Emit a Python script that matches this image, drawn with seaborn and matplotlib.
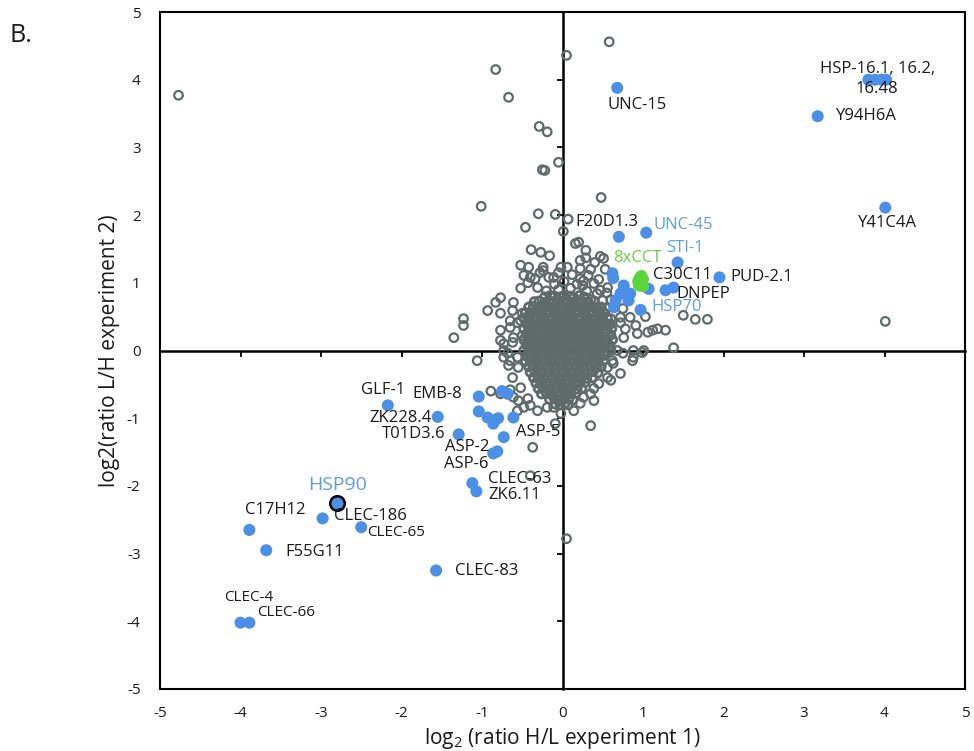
import matplotlib
matplotlib.use("Agg")
import matplotlib.pyplot as plt
import seaborn as sns

# background proteins (open grey circles)
grey_outer = [
    (-4.77, 3.77), (-0.83, 4.15), (-0.67, 3.74), (-0.29, 3.31), (-0.19, 3.23), (-0.25, 2.67),
    (-0.22, 2.66), (-0.05, 2.78), (0.05, 4.36), (0.58, 4.56), (-1.01, 2.13), (-0.30, 2.02),
    (-0.09, 2.01), (0.07, 1.94), (0.48, 2.26), (-0.46, 1.82), (0.01, 1.76), (0.16, 1.58),
    (0.20, 1.60), (0.29, 1.48), (0.29, 1.37), (-0.39, 1.49), (-0.27, 1.45), (-0.16, 1.40),
    (0.47, 1.39), (0.51, 1.36), (-0.52, 1.26), (-0.42, 1.23), (-0.24, 1.23), (-0.02, 1.23),
    (0.22, 1.21), (-0.48, 1.11), (-0.34, 1.06), (-0.17, 1.08), (-0.43, 1.00), (-0.31, 0.93),
    (-0.77, 0.78), (-0.83, 0.71), (-0.93, 0.59), (-1.23, 0.47), (-1.23, 0.37), (-1.35, 0.19),
    (-1.06, -0.15), (-0.61, 0.71), (-0.62, 0.59), (-0.50, 0.55), (-0.56, 0.41), (-0.73, 0.10),
    (-0.62, 0.12), (-0.65, 0.34), (-0.52, 0.44), (-0.50, 0.22), (-0.68, -0.04), (-0.73, -0.10),
    (-0.56, -0.10), (-0.67, -0.22), (-0.55, -0.25), (-0.62, -0.40), (0.22, 1.06), (0.32, 1.11),
    (0.25, 0.96), (0.56, 0.93), (0.43, 0.84), (0.50, 0.74), (0.60, 0.47), (0.72, 0.41),
    (0.78, 0.32), (0.93, 0.25), (1.06, 0.27), (1.01, 0.00), (0.87, -0.15), (0.63, -0.19),
    (0.72, -0.34), (0.60, -0.44), (-0.11, -0.84), (0.35, -1.11), (-0.37, -1.43), (-0.40, -1.85),
    (0.05, -2.78), (0.99, -0.03), (1.38, 0.04), (0.75, -0.04), (0.62, -0.15), (0.56, -0.25),
    (0.45, -0.49), (0.39, -0.56), (0.39, -0.74), (0.26, -0.69), (0.75, 0.62), (1.03, 0.50),
    (1.18, 0.32), (1.28, 0.30), (1.50, 0.52), (1.65, 0.46), (1.80, 0.46), (0.91, 0.37),
    (1.12, 0.30), (0.84, 0.49), (4.01, 0.43), (-0.89, -0.60), (-0.65, -0.58), (-0.55, -0.74),
    (-0.43, -0.71), (-0.40, -0.81), (-0.56, -0.89), (-0.77, 0.15), (-0.73, 0.00), (-0.65, -0.15),
    (-0.52, -0.55), (-0.77, -0.64), (-0.61, -0.69), (-0.48, -0.84), (-0.31, -0.89), (-0.19, -0.84),
    (-0.02, -0.93), (-0.09, -1.08), (0.72, 0.49), (0.76, 0.19), (0.68, 0.00), (0.56, -0.40),
    (0.35, -0.64), (0.22, -0.78), (0.14, -0.89), (0.88, 0.00), (0.88, -0.10), (-0.40, 1.08),
    (-0.24, 1.18), (-0.11, 1.08), (0.06, 1.23), (0.22, 1.33), (0.26, 1.03), (0.39, 0.99),
    (0.47, 0.89), (-0.52, 0.92), (-0.77, 0.55), (-0.65, 0.44), (-0.77, 0.30), (-0.61, 0.19),
    (-0.05, 0.90), (0.10, 0.92), (0.30, 0.88), (-0.20, 0.88), (0.18, 0.98), (-0.10, 0.98),
    (0.02, 1.02), (-0.28, 1.15), (0.12, 1.12), (0.35, 1.20), (-0.05, 1.15), (0.35, 0.75),
    (0.42, 0.62), (0.55, 0.62), (0.60, 0.75), (0.55, 0.85), (0.45, 1.05), (0.53, 1.20),
    (0.40, 1.30),
]

# the dense centre of the cloud
grey_core = [
    (-0.22, 0.79), (-0.15, 0.81), (-0.10, 0.80), (-0.03, 0.79), (0.02, 0.81), (0.09, 0.80),
    (0.14, 0.78), (0.21, 0.81), (0.27, 0.79),
    (-0.35, 0.72), (-0.29, 0.73), (-0.22, 0.71), (-0.17, 0.73), (-0.11, 0.72), (-0.05, 0.71),
    (0.01, 0.73), (0.07, 0.72), (0.13, 0.71), (0.19, 0.73), (0.25, 0.72), (0.32, 0.71), (0.39, 0.73),
    (-0.42, 0.64), (-0.36, 0.65), (-0.30, 0.63), (-0.24, 0.64), (-0.18, 0.65), (-0.12, 0.63),
    (-0.06, 0.64), (0.00, 0.65), (0.06, 0.63), (0.12, 0.64), (0.18, 0.65), (0.24, 0.63),
    (0.30, 0.64), (0.36, 0.65), (0.42, 0.63), (0.48, 0.64),
    (-0.46, 0.56), (-0.40, 0.55), (-0.33, 0.57), (-0.27, 0.56), (-0.21, 0.55), (-0.15, 0.57),
    (-0.09, 0.56), (-0.03, 0.55), (0.03, 0.57), (0.09, 0.56), (0.15, 0.55), (0.21, 0.57),
    (0.27, 0.56), (0.33, 0.55), (0.39, 0.57), (0.45, 0.56), (0.52, 0.55),
    (-0.48, 0.48), (-0.42, 0.49), (-0.36, 0.47), (-0.30, 0.48), (-0.24, 0.49), (-0.18, 0.47),
    (-0.12, 0.48), (-0.06, 0.49), (0.00, 0.47), (0.06, 0.48), (0.12, 0.49), (0.18, 0.47),
    (0.24, 0.48), (0.30, 0.49), (0.36, 0.47), (0.42, 0.48), (0.49, 0.49), (0.56, 0.47),
    (-0.45, 0.40), (-0.39, 0.41), (-0.33, 0.39), (-0.27, 0.40), (-0.21, 0.41), (-0.15, 0.39),
    (-0.09, 0.40), (-0.03, 0.41), (0.03, 0.39), (0.09, 0.40), (0.15, 0.41), (0.21, 0.39),
    (0.27, 0.40), (0.33, 0.41), (0.39, 0.39), (0.45, 0.40), (0.52, 0.41), (0.59, 0.39),
    (-0.48, 0.32), (-0.42, 0.33), (-0.36, 0.31), (-0.30, 0.32), (-0.24, 0.33), (-0.18, 0.31),
    (-0.12, 0.32), (-0.06, 0.33), (0.00, 0.31), (0.06, 0.32), (0.12, 0.33), (0.18, 0.31),
    (0.24, 0.32), (0.30, 0.33), (0.36, 0.31), (0.42, 0.32), (0.48, 0.33), (0.55, 0.31), (0.61, 0.32),
    (-0.45, 0.24), (-0.39, 0.25), (-0.33, 0.23), (-0.27, 0.24), (-0.21, 0.25), (-0.15, 0.23),
    (-0.09, 0.24), (-0.03, 0.25), (0.03, 0.23), (0.09, 0.24), (0.15, 0.25), (0.21, 0.23),
    (0.27, 0.24), (0.33, 0.25), (0.39, 0.23), (0.45, 0.24), (0.52, 0.25), (0.60, 0.23),
    (-0.48, 0.16), (-0.42, 0.17), (-0.36, 0.15), (-0.30, 0.16), (-0.24, 0.17), (-0.18, 0.15),
    (-0.12, 0.16), (-0.06, 0.17), (0.00, 0.15), (0.06, 0.16), (0.12, 0.17), (0.18, 0.15),
    (0.24, 0.16), (0.30, 0.17), (0.36, 0.15), (0.42, 0.16), (0.48, 0.17), (0.55, 0.15), (0.62, 0.16),
    (-0.45, 0.08), (-0.39, 0.09), (-0.33, 0.07), (-0.27, 0.08), (-0.21, 0.09), (-0.15, 0.07),
    (-0.09, 0.08), (-0.03, 0.09), (0.03, 0.07), (0.09, 0.08), (0.15, 0.09), (0.21, 0.07),
    (0.27, 0.08), (0.33, 0.09), (0.39, 0.07), (0.45, 0.08), (0.52, 0.09), (0.59, 0.07),
    (-0.48, 0.00), (-0.42, 0.01), (-0.36, -0.01), (-0.30, 0.00), (-0.24, 0.01), (-0.18, -0.01),
    (-0.12, 0.00), (-0.06, 0.01), (0.00, -0.01), (0.06, 0.00), (0.12, 0.01), (0.18, -0.01),
    (0.24, 0.00), (0.30, 0.01), (0.36, -0.01), (0.42, 0.00), (0.48, 0.01), (0.54, -0.01), (0.60, 0.00),
    (-0.45, -0.08), (-0.39, -0.07), (-0.33, -0.09), (-0.27, -0.08), (-0.21, -0.07), (-0.15, -0.09),
    (-0.09, -0.08), (-0.03, -0.07), (0.03, -0.09), (0.09, -0.08), (0.15, -0.07), (0.21, -0.09),
    (0.27, -0.08), (0.33, -0.07), (0.39, -0.09), (0.45, -0.08), (0.52, -0.07),
    (-0.46, -0.16), (-0.40, -0.15), (-0.34, -0.17), (-0.28, -0.16), (-0.22, -0.15), (-0.16, -0.17),
    (-0.10, -0.16), (-0.04, -0.15), (0.02, -0.17), (0.08, -0.16), (0.14, -0.15), (0.20, -0.17),
    (0.26, -0.16), (0.32, -0.15), (0.38, -0.17), (0.44, -0.16), (0.51, -0.15),
    (-0.42, -0.24), (-0.36, -0.23), (-0.30, -0.25), (-0.24, -0.24), (-0.18, -0.23), (-0.12, -0.25),
    (-0.06, -0.24), (0.00, -0.23), (0.06, -0.25), (0.12, -0.24), (0.18, -0.23), (0.24, -0.25),
    (0.30, -0.24), (0.36, -0.23), (0.42, -0.25), (0.48, -0.24),
    (-0.40, -0.32), (-0.34, -0.31), (-0.28, -0.33), (-0.22, -0.32), (-0.16, -0.31), (-0.10, -0.33),
    (-0.04, -0.32), (0.02, -0.31), (0.08, -0.33), (0.14, -0.32), (0.20, -0.31), (0.26, -0.33),
    (0.32, -0.32), (0.38, -0.31), (0.44, -0.33),
    (-0.36, -0.40), (-0.30, -0.39), (-0.24, -0.41), (-0.18, -0.40), (-0.12, -0.39), (-0.06, -0.41),
    (0.00, -0.40), (0.06, -0.39), (0.12, -0.41), (0.18, -0.40), (0.24, -0.39), (0.30, -0.41), (0.37, -0.40),
    (-0.33, -0.48), (-0.27, -0.47), (-0.21, -0.49), (-0.15, -0.48), (-0.09, -0.47), (-0.03, -0.49),
    (0.03, -0.48), (0.09, -0.47), (0.15, -0.49), (0.21, -0.48), (0.28, -0.47),
    (-0.30, -0.56), (-0.24, -0.55), (-0.18, -0.57), (-0.12, -0.56), (-0.06, -0.55), (0.00, -0.57),
    (0.06, -0.56), (0.12, -0.55), (0.18, -0.57), (0.24, -0.56),
    (-0.26, -0.64), (-0.20, -0.63), (-0.14, -0.65), (-0.08, -0.64), (-0.02, -0.63), (0.04, -0.65),
    (0.10, -0.64), (0.17, -0.63),
    (-0.16, -0.72), (-0.10, -0.71), (-0.04, -0.73), (0.02, -0.72), (0.08, -0.71), (0.13, -0.73),
    (-0.09, -0.79), (-0.03, -0.80), (0.03, -0.78), (0.07, -0.80),
]

# changed proteins (blue dots)
blue_pts = [
    (0.68, 3.88), (3.80, 4.00), (3.88, 4.00), (3.96, 4.00), (4.02, 4.00), (3.17, 3.46),
    (4.01, 2.11), (0.70, 1.68), (1.04, 1.74), (1.43, 1.30), (1.95, 1.08),
    (0.62, 1.14), (0.63, 1.07), (0.76, 0.96), (0.84, 0.84), (0.66, 0.74), (0.64, 0.64),
    (0.82, 0.74), (0.97, 0.60), (1.07, 0.91), (1.28, 0.89), (1.38, 0.93), (0.72, 0.84),
    (-2.17, -0.81), (-1.04, -0.68), (-1.55, -0.98), (-1.29, -1.24), (-0.86, -1.52), (-0.81, -1.49),
    (-0.73, -1.28), (-0.61, -0.99), (-1.04, -0.90), (-0.93, -0.99), (-0.86, -1.08), (-0.80, -1.00),
    (-0.75, -0.60), (-0.68, -0.64), (-1.12, -1.96), (-1.07, -2.08), (-2.98, -2.48), (-2.50, -2.61),
    (-3.89, -2.65), (-3.68, -2.95), (-1.57, -3.25), (-4.00, -4.02), (-3.89, -4.02),
]
hsp90_pt = [(-2.80, -2.25)]
cct_pts = [(0.94, 1.02), (0.96, 1.07), (0.98, 1.10), (1.00, 1.05), (0.95, 0.96),
           (0.98, 0.99), (1.00, 0.95), (0.97, 1.02)]

# labels: text, x, y, horizontal alignment
black_labels = [
    ("UNC-15", 0.93, 3.63, "center"), ("HSP-16.1, 16.2,\n16.48", 3.91, 4.01, "center"),
    ("Y94H6A", 3.40, 3.46, "left"), ("Y41C4A", 4.04, 1.88, "center"),
    ("F20D1.3", 0.16, 1.90, "left"), ("C30C11", 1.12, 1.11, "left"),
    ("PUD-2.1", 2.09, 1.08, "left"), ("DNPEP", 1.42, 0.84, "left"),
    ("GLF-1", -2.23, -0.59, "center"), ("EMB-8", -1.55, -0.64, "center"),
    ("ZK228.4", -1.62, -0.99, "right"), ("T01D3.6", -1.45, -1.24, "right"),
    ("ASP-2", -1.18, -1.43, "center"), ("ASP-6", -1.20, -1.67, "center"),
    ("ASP-5", -0.58, -1.21, "left"), ("CLEC-63", -0.93, -1.90, "left"),
    ("ZK6.11", -0.92, -2.14, "left"), ("CLEC-186", -2.84, -2.45, "left"),
    ("CLEC-65", -2.43, -2.69, "left"), ("C17H12", -3.57, -2.36, "center"),
    ("F55G11", -3.44, -2.98, "left"), ("CLEC-83", -1.33, -3.26, "left"),
    ("CLEC-4", -3.90, -3.65, "center"), ("CLEC-66", -3.79, -3.87, "left"),
]
blue_labels = [
    ("UNC-45", 1.13, 1.85, "left"), ("STI-1", 1.52, 1.52, "center"),
    ("HSP70", 1.10, 0.64, "left"), ("HSP90", -2.80, -1.98, "center"),
]
green_labels = [("8xCCT", 0.93, 1.36, "center")]
small_labels = ["CLEC-65", "CLEC-4", "CLEC-66"]

ticks = list(range(-5, 6))

grey = "#5f6b6b"
blue = "#4b8fe6"
blue_txt = "#5f9de6"
green = "#5bd63a"
green_txt = "#66cf45"

sns.set_style("white")
plt.rcParams['font.family'] = ['Open Sans', 'DejaVu Sans']
plt.rcParams['mathtext.fontset'] = 'custom'
plt.rcParams['mathtext.rm'] = 'Open Sans'
plt.rcParams['mathtext.it'] = 'Open Sans'
plt.rcParams['axes.unicode_minus'] = False

fig = plt.figure(figsize=(9.74, 7.51), dpi=100)
pos = [160 / 974, 62 / 751, 805 / 974, 677 / 751]

# zero lines with their tick marks, drawn under the points
ax0 = fig.add_axes(pos)
ax0.set_xlim(-5, 5)
ax0.set_ylim(-5, 5)
ax0.patch.set_visible(False)
ax0.spines['top'].set_visible(False)
ax0.spines['right'].set_visible(False)
ax0.spines['left'].set_position('zero')
ax0.spines['bottom'].set_position('zero')
for s in ['left', 'bottom']:
    ax0.spines[s].set_linewidth(1.8)
    ax0.spines[s].set_color('black')
ax0.set_xticks(ticks)
ax0.set_yticks(ticks)
ax0.tick_params(bottom=True, left=True, direction='out', length=4.5, width=1.3,
                color='black', labelbottom=False, labelleft=False)

ax = fig.add_axes(pos)
ax.patch.set_alpha(0)

sns.scatterplot(x=[p[0] for p in grey_core], y=[p[1] for p in grey_core], ax=ax,
                s=36, facecolor='none', edgecolor=grey, linewidth=2.0)
sns.scatterplot(x=[p[0] for p in grey_outer], y=[p[1] for p in grey_outer], ax=ax,
                s=38, facecolor='none', edgecolor=grey, linewidth=1.6)
sns.scatterplot(x=[p[0] for p in blue_pts], y=[p[1] for p in blue_pts], ax=ax,
                s=75, color=blue, edgecolor='none')
sns.scatterplot(x=[p[0] for p in cct_pts], y=[p[1] for p in cct_pts], ax=ax,
                s=75, color=green, edgecolor='none')
sns.scatterplot(x=[p[0] for p in hsp90_pt], y=[p[1] for p in hsp90_pt], ax=ax,
                s=110, color=blue, edgecolor='black', linewidth=1.8)

for txt, x, y, ha in black_labels:
    fs = 11 if txt in small_labels else 12
    ax.text(x, y, txt, ha=ha, va='center', fontsize=fs, color='#1a1a1a',
            multialignment='center', linespacing=1.3)
for txt, x, y, ha in blue_labels:
    fs = 14 if txt == "HSP90" else 12
    ax.text(x, y, txt, ha=ha, va='center', fontsize=fs, color=blue_txt)
for txt, x, y, ha in green_labels:
    ax.text(x, y, txt, ha=ha, va='center', fontsize=12, color=green_txt)

ax.set_xlim(-5, 5)
ax.set_ylim(-5, 5)
ax.set_xticks(ticks)
ax.set_yticks(ticks)
ax.tick_params(length=0, labelsize=11, colors='#1a1a1a')
ax.tick_params(axis='x', pad=12)
ax.tick_params(axis='y', pad=14)
for s in ax.spines.values():
    s.set_visible(True)
    s.set_color('black')
    s.set_linewidth(1.5)

ax.set_xlabel("log$_2$ (ratio H/L experiment 1)", fontsize=15, color='#1a1a1a')
ax.set_ylabel("log2(ratio L/H experiment 2)", fontsize=15, color='#1a1a1a')
ax.xaxis.set_label_coords(0.5, -0.055)
ax.yaxis.set_label_coords(-0.05, 0.5)

fig.text(10 / 974, 1 - 42 / 751, "B.", fontsize=18, color='#1a1a1a')

fig.savefig("out.png", dpi=100)
